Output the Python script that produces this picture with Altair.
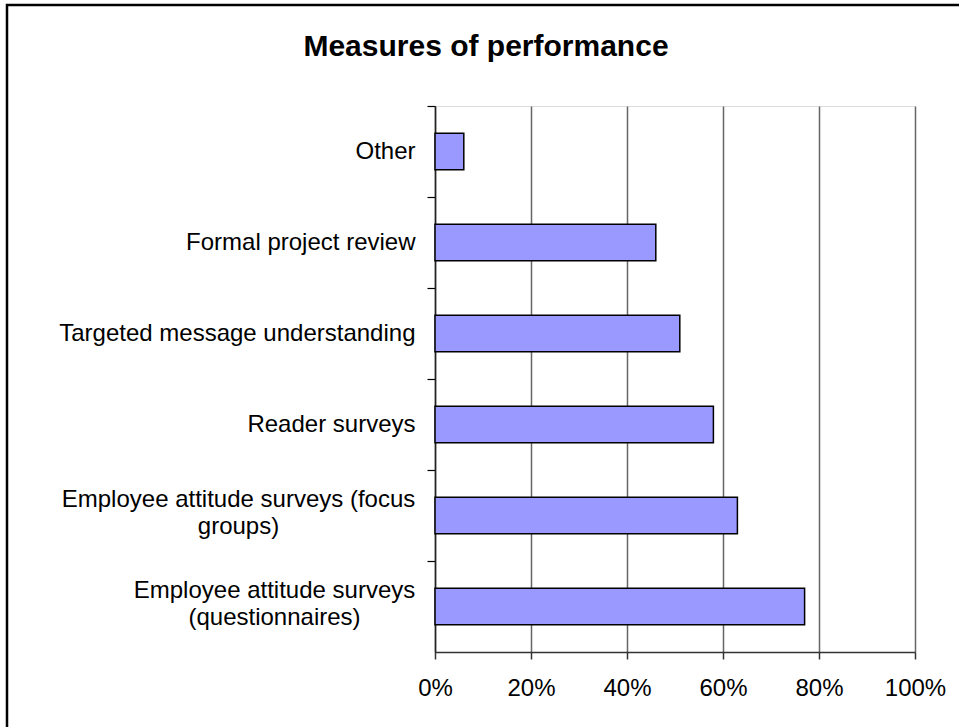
import altair as alt
import pandas as pd

# ---- data ----
categories = [
    "Other",
    "Formal project review",
    "Targeted message understanding",
    "Reader surveys",
    "Employee attitude surveys (focus\ngroups)",
    "Employee attitude surveys\n(questionnaires)",
]
values = [6, 46, 51, 58, 63, 77]
x_ticks = [0, 20, 40, 60, 80, 100]
title_text = "Measures of performance"

df = pd.DataFrame({"measure": categories, "pct": values})

W, H = 480, 546
FONT = "Liberation Sans"

y_axis = alt.Axis(
    title=None,
    bandPosition=0,
    tickSize=8,
    tickColor="black",
    tickWidth=1.2,
    domainColor="#222222",
    domainWidth=1.5,
    labelFont=FONT,
    labelFontSize=24,
    labelColor="black",
    labelLimit=0,
    labelLineHeight=27,
    labelExpr="split(datum.value, '\\n')",
    labelAlign={
        "condition": {"test": "indexof(datum.value, '\\n') >= 0", "value": "center"},
        "value": "right",
    },
    labelOffset={
        "condition": {"test": "indexof(datum.value, '\\n') >= 0", "value": -16},
        "value": 0,
    },
    labelPadding={
        "condition": [
            {"test": "indexof(datum.value, 'focus') >= 0", "value": 189},
            {"test": "indexof(datum.value, 'questionnaires') >= 0", "value": 153},
        ],
        "value": 12,
    },
)

x_axis = alt.Axis(
    title=None,
    values=x_ticks,
    labelExpr="datum.value + '%'",
    labelFlush=False,
    grid=True,
    gridColor="#666666",
    gridWidth=1.5,
    domainColor="#333333",
    domainWidth=1.5,
    tickColor="#333333",
    tickSize=7,
    tickWidth=1.5,
    labelFont=FONT,
    labelFontSize=24,
    labelColor="black",
    labelPadding=17,
)

bars = alt.Chart(df).mark_bar(
    height={"band": 0.4}, color="#9999FF", stroke="black", strokeWidth=1.5
).encode(
    x=alt.X("pct:Q", scale=alt.Scale(domain=[0, 100], nice=False), axis=x_axis),
    y=alt.Y(
        "measure:N",
        sort=categories,
        scale=alt.Scale(paddingInner=0, paddingOuter=0),
        axis=y_axis,
    ),
)

# outer chart frame (cropped at right and bottom as in the reference)
frame = alt.Chart(pd.DataFrame({"f": [0]})).mark_rect(
    filled=False, stroke="black", strokeWidth=2.5
).encode(
    x=alt.value(-428), x2=alt.value(545), y=alt.value(-101), y2=alt.value(640)
)

chart = alt.layer(bars, frame).properties(
    width=W,
    height=H,
    title=alt.TitleParams(
        title_text,
        font=FONT,
        fontSize=30,
        fontWeight="bold",
        color="black",
        anchor="middle",
        frame="group",
        baseline="alphabetic",
        dx=-189,
        offset=-82,
    ),
    padding={"left": 435, "top": 106, "right": 44, "bottom": 75},
    autosize=alt.AutoSizeParams(type="none"),
).configure_view(
    fill="#C0C0C0", stroke="#808080", strokeWidth=1.5
).configure(background="white")

chart.save("out.html", embed_options={"renderer": "svg", "actions": False})
